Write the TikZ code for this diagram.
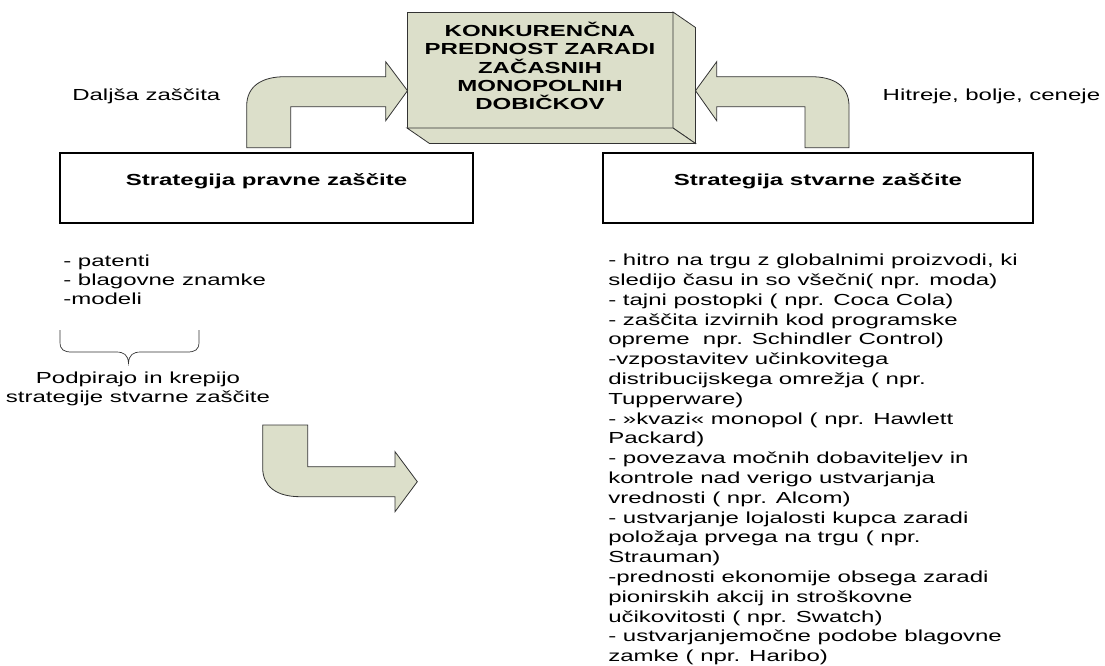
\documentclass[tikz,border=0pt]{standalone}
\usepackage{fontspec}
\setmainfont[FakeStretch=1.5]{Liberation Sans}
\usetikzlibrary{calc}
\definecolor{shapefill}{HTML}{DCDFCA}
\definecolor{shapeedge}{HTML}{333333}
\begin{document}
\begin{tikzpicture}[x=1pt,y=-1pt,
  font=\fontsize{16}{19.8}\selectfont,
  every node/.style={inner sep=0pt, outer sep=0pt},
  blockarrow/.style={fill=shapefill, draw=shapeedge, line width=0.8pt, line join=miter},
  cubeface/.style={fill=shapefill, draw=shapeedge, line width=0.8pt, line join=miter},
  stratbox/.style={draw=black, line width=1.1pt, minimum height=70pt},
  boldtxt/.style={font=\fontsize{16}{18.3}\selectfont\bfseries},
  listtxt/.style={align=left, font=\fontsize{16}{19.8}\selectfont},
  shortlist/.style={font=\fontsize{16}{19}\selectfont}
]
\useasboundingbox (0,0) rectangle (1105,666);

% 3D box at top
\node[cubeface, minimum width=266pt, minimum height=116pt] (top) at (540,70) {};
\coordinate (topdepth) at (22.5,15.5);
\draw[cubeface] (top.north east) -- ++(topdepth) -- ($(top.south east)+(topdepth)$) -- (top.south east) -- cycle;
\draw[cubeface] (top.south west) -- (top.south east) -- ($(top.south east)+(topdepth)$) -- ($(top.south west)+(topdepth)$) -- cycle;
\node[boldtxt, align=center, anchor=base] (toptext) at (540,109.9)
  {KONKURENČNA\\PREDNOST ZARADI\\ZAČASNIH\\MONOPOLNIH\\DOBIČKOV};

% strategy boxes
\node[stratbox, minimum width=413pt] (legal) at (266.5,188) {};
\node[boldtxt, anchor=base] (legaltext) at (266.5,185) {Strategija pravne zaščite};
\node[stratbox, minimum width=430pt] (real) at (818,188) {};
\node[boldtxt, anchor=base] (realtext) at (818,185) {Strategija stvarne zaščite};

% bent arrows
\coordinate (lefttip) at (407.5,90.7);
\coordinate (righttip) at (695.5,90.7);
\draw[blockarrow] (246.7,147.7) -- (246.7,106) .. controls (246.7,86) and (262,76.7) .. (285,76.7)
  -- (385.7,76.7) -- (385.7,61.7) -- (lefttip) -- (385.7,120.7) -- (385.7,106.7)
  -- (290.7,106.7) -- (290.7,147.7) -- cycle;
\draw[blockarrow] (849,147.7) -- (849,106) .. controls (849,86) and (834,76.7) .. (811,76.7)
  -- (716.7,76.7) -- (716.7,61.7) -- (righttip) -- (716.7,120.7) -- (716.7,106.7)
  -- (805,106.7) -- (805,147.7) -- cycle;
\draw[blockarrow] (262.7,425) -- (307.7,425) -- (307.7,466.7) -- (395,466.7) -- (395,451.7) -- (417.3,481.7)
  -- (395,511.7) -- (395,496.7) -- (300,496.7) .. controls (276,496.7) and (262.7,486) .. (262.7,468) -- cycle;

% side labels
\node[anchor=base west] (longer) at (72.3,101) {Daljša zaščita};
\node[anchor=base west] (faster) at (882.7,101) {Hitreje, bolje, ceneje};

% left list and brace
\node[listtxt, shortlist, anchor=base west] (legallist) at (63.3,304) {- patenti\\- blagovne znamke\\-modeli};
\draw[line width=0.7pt, draw=shapeedge] (60,330) -- (60,342) .. controls (60,350) and (64,352) .. (72,352)
  -- (116,352) .. controls (124,352) and (128,355) .. (128.5,363)
  .. controls (129,355) and (133,352) .. (141,352) -- (187,352)
  .. controls (195,352) and (199,350) .. (199,342) -- (199,330);
\node[shortlist, align=center, anchor=base] (support) at (138,402.7) {Podpirajo in krepijo\\strategije stvarne zaščite};

% right list
\node[listtxt, anchor=base west] (reallist) at (608.3,661.7) {%
- hitro na trgu z globalnimi proizvodi, ki\\
sledijo času in so všečni( npr. moda)\\
- tajni postopki ( npr. Coca Cola)\\
- zaščita izvirnih kod programske\\
opreme~ npr. Schindler Control)\\
-vzpostavitev učinkovitega\\
distribucijskega omrežja ( npr.\\
Tupperware)\\
- »kvazi« monopol ( npr. Hawlett\\
Packard)\\
- povezava močnih dobaviteljev in\\
kontrole nad verigo ustvarjanja\\
vrednosti ( npr. Alcom)\\
- ustvarjanje lojalosti kupca zaradi\\
položaja prvega na trgu ( npr.\\
Strauman)\\
-prednosti ekonomije obsega zaradi\\
pionirskih akcij in stroškovne\\
učikovitosti ( npr. Swatch)\\
- ustvarjanjemočne podobe blagovne\\
zamke ( npr. Haribo)};
\end{tikzpicture}
\end{document}
